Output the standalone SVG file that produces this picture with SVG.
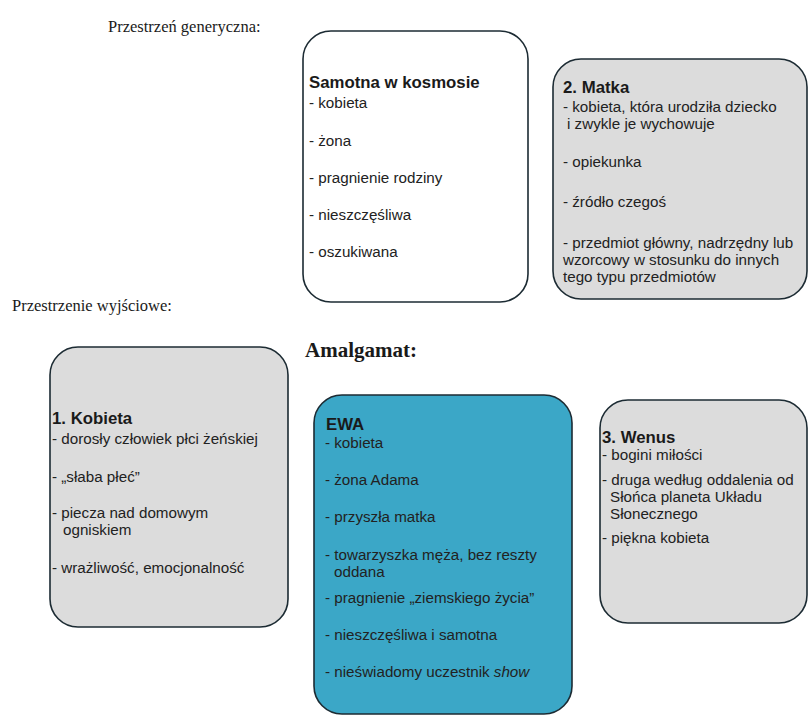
<svg xmlns="http://www.w3.org/2000/svg" width="810" height="717" viewBox="0 0 810 717">
<style>
.box{stroke:#1c2b33;stroke-width:1.6}
.w{fill:#ffffff}
.g{fill:#dcdcdc}
.b{fill:#3ba7c7}
.t{font-family:"Liberation Sans",Arial,sans-serif;font-size:16.8px;font-weight:bold;fill:#1a1a1a}
.i{font-family:"Liberation Sans",Arial,sans-serif;font-size:15.2px;fill:#222}
.lab{font-family:"Liberation Serif","Times New Roman",serif;font-size:16.5px;fill:#1a1a1a}
.am{font-family:"Liberation Serif","Times New Roman",serif;font-size:21px;font-weight:bold;fill:#1a1a1a}
</style>
<rect width="810" height="717" fill="#ffffff"/>
<text class="lab" x="108" y="32">Przestrzeń generyczna:</text>
<text class="lab" x="12" y="311">Przestrzenie wyjściowe:</text>
<text class="am" x="305" y="357">Amalgamat:</text>

<g id="samotna">
<rect class="box w" x="303" y="31" width="225" height="271" rx="28"/>
<text class="t" x="309" y="88">Samotna w kosmosie</text>
<text class="i" x="309" y="108">- kobieta</text>
<text class="i" x="309" y="146">- żona</text>
<text class="i" x="309" y="183">- pragnienie rodziny</text>
<text class="i" x="309" y="220">- nieszczęśliwa</text>
<text class="i" x="309" y="257">- oszukiwana</text>
</g>

<g id="matka">
<rect class="box g" x="553" y="59" width="254" height="240" rx="28"/>
<text class="t" x="563" y="93">2. Matka</text>
<text class="i" x="563" y="112">- kobieta, która urodziła dziecko</text>
<text class="i" x="567" y="129">i zwykle je wychowuje</text>
<text class="i" x="563" y="167">- opiekunka</text>
<text class="i" x="563" y="207">- źródło czegoś</text>
<text class="i" x="563" y="248">- przedmiot główny, nadrzędny lub</text>
<text class="i" x="563" y="265">wzorcowy w stosunku do innych</text>
<text class="i" x="563" y="282">tego typu przedmiotów</text>
</g>

<g id="kobieta">
<rect class="box g" x="50" y="347" width="238" height="280" rx="28"/>
<text class="t" x="52" y="424">1. Kobieta</text>
<text class="i" x="52" y="444">- dorosły człowiek płci żeńskiej</text>
<text class="i" x="52" y="482">- „słaba płeć”</text>
<text class="i" x="52" y="518">- piecza nad domowym</text>
<text class="i" x="63" y="535">ogniskiem</text>
<text class="i" x="52" y="573">- wrażliwość, emocjonalność</text>
</g>

<g id="ewa">
<rect class="box b" x="314" y="395" width="258" height="319" rx="28"/>
<text class="t" x="326" y="430">EWA</text>
<text class="i" x="325" y="448">- kobieta</text>
<text class="i" x="325" y="485">- żona Adama</text>
<text class="i" x="325" y="522">- przyszła matka</text>
<text class="i" x="325" y="560">- towarzyszka męża, bez reszty</text>
<text class="i" x="334" y="577">oddana</text>
<text class="i" x="325" y="603">- pragnienie „ziemskiego życia”</text>
<text class="i" x="325" y="640">- nieszczęśliwa i samotna</text>
<text class="i" x="325" y="677">- nieświadomy uczestnik <tspan font-style="italic">show</tspan></text>
</g>

<g id="wenus">
<rect class="box g" x="600" y="400" width="207" height="223" rx="28"/>
<text class="t" x="602" y="443">3. Wenus</text>
<text class="i" x="602" y="460">- bogini miłości</text>
<text class="i" x="602" y="485">- druga według oddalenia od</text>
<text class="i" x="610" y="502">Słońca planeta Układu</text>
<text class="i" x="610" y="519">Słonecznego</text>
<text class="i" x="602" y="543">- piękna kobieta</text>
</g>

<g id="connectors"></g>
</svg>
